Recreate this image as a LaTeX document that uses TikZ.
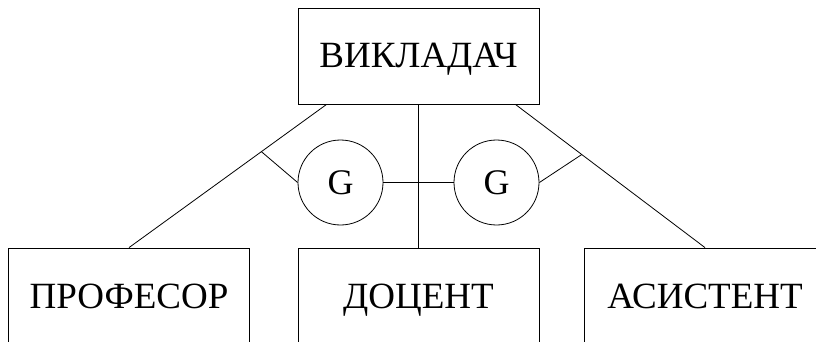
\documentclass[tikz,border=0pt]{standalone}
\usepackage{fontspec}
\setmainfont{Liberation Serif}
\usepackage{tikz}
\usetikzlibrary{calc}

\begin{document}
\begin{tikzpicture}[x=1pt,y=-1pt]
  \tikzset{
    ebox/.style={rectangle, draw=black, line width=0.8pt,
      minimum width=241pt, minimum height=96pt, inner sep=0pt,
      text height=28pt, text depth=4pt,
      align=center, font=\fontsize{37}{44}\selectfont},
    gnode/.style={circle, draw=black, line width=0.8pt,
      minimum size=85pt, inner sep=0pt, font=\fontsize{36}{43}\selectfont},
    link/.style={line width=0.8pt, black}
  }
  \clip (0,0) rectangle (816,342);

  \node[ebox] (teacher) at (418.5,56)  {ВИКЛАДАЧ};
  \node[ebox] (prof)    at (129,296)   {ПРОФЕСОР};
  \node[ebox] (docent)  at (418.5,296) {ДОЦЕНТ};
  \node[ebox] (assist)  at (705,296)   {АСИСТЕНТ};

  \node[gnode] (g1) at (340.5,182.5) {G};
  \node[gnode] (g2) at (496.5,182.5) {G};

  \draw[link] ([xshift=29pt]teacher.south west) -- coordinate[pos=0.33] (lk) (prof.north);
  \draw[link] ([xshift=-24pt]teacher.south east) -- coordinate[pos=0.35] (rk) (assist.north);
  \draw[link] (teacher.south) -- (docent.north);

  \foreach \a/\b in {lk/g1.west,rk/g2.east,g1.east/g2.west}{
    \draw[link] (\a)--(\b);
  }
\end{tikzpicture}
\end{document}
